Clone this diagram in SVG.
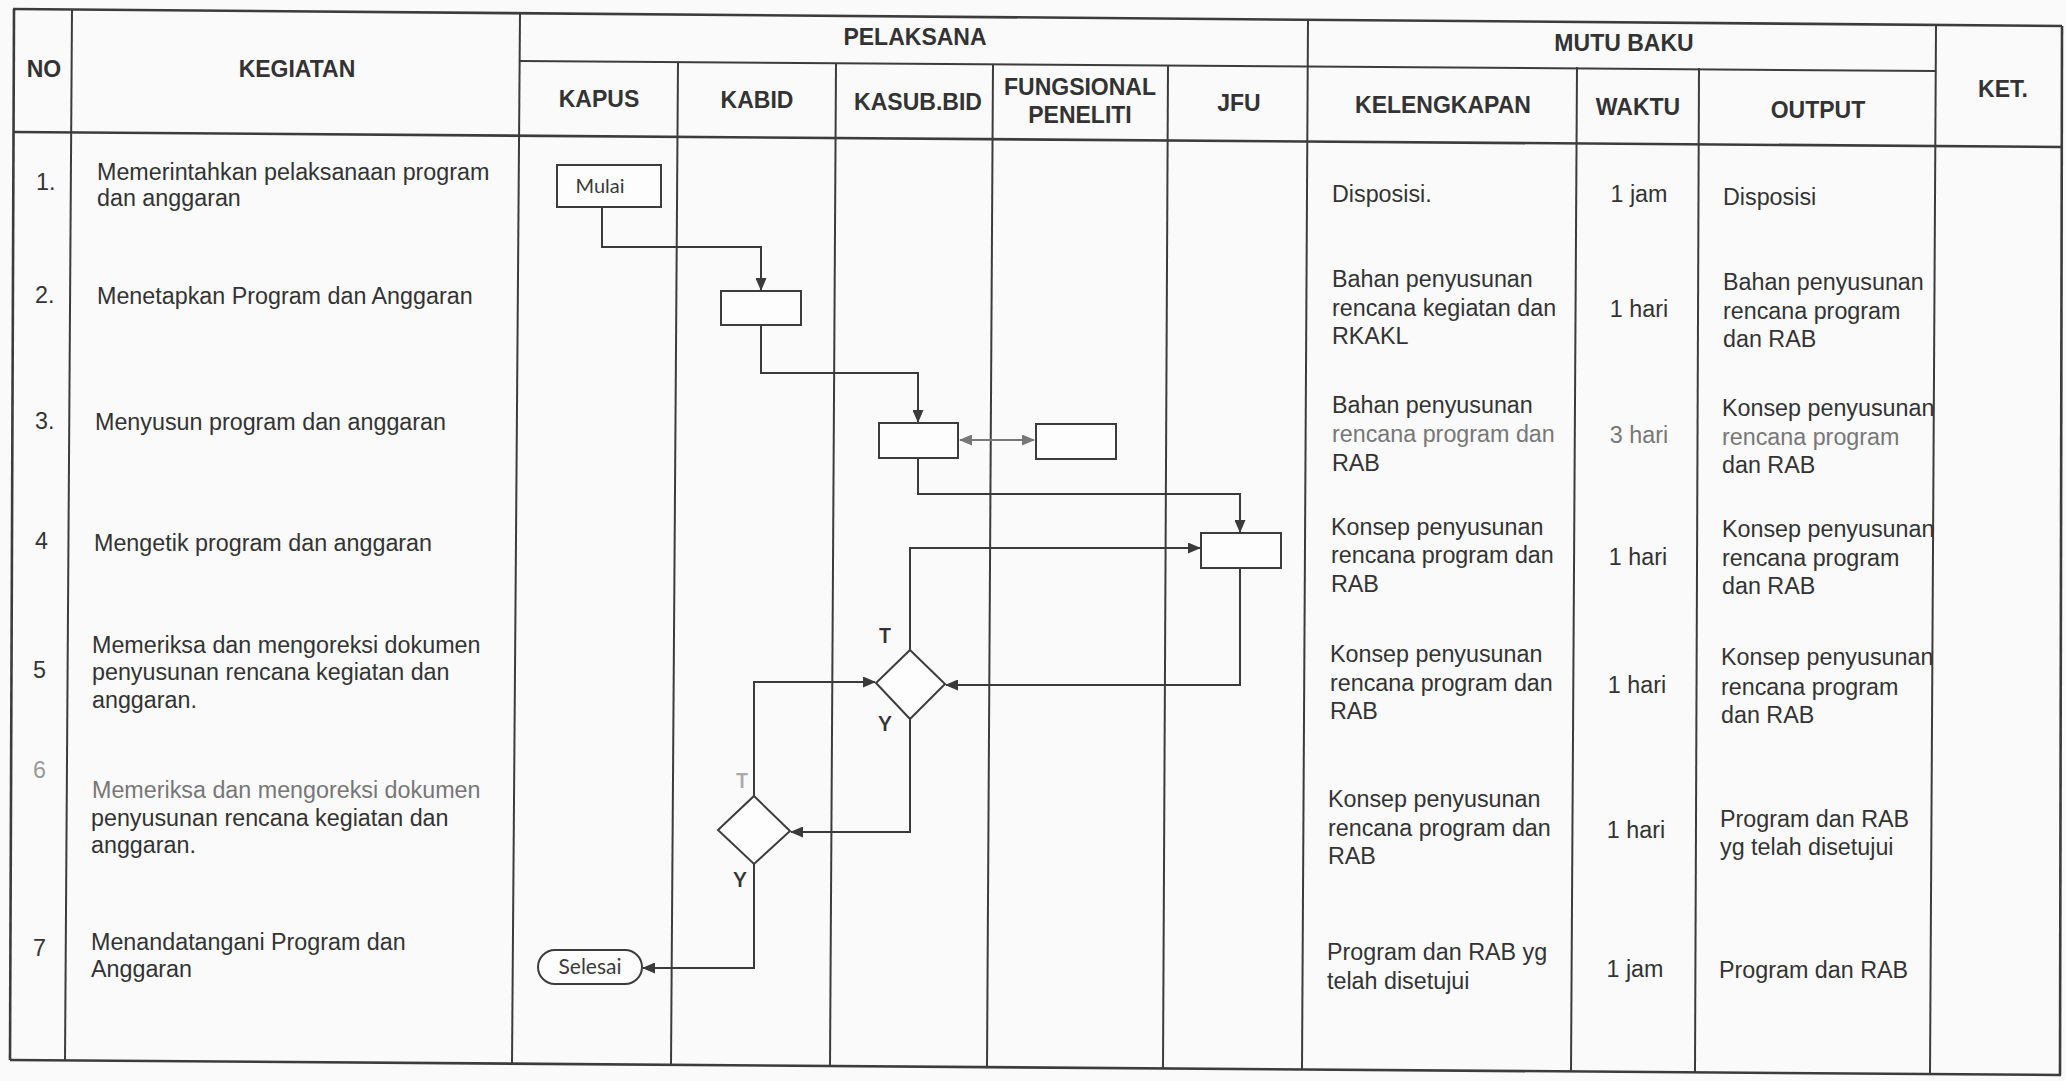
<svg xmlns="http://www.w3.org/2000/svg" width="2066" height="1081" viewBox="0 0 2066 1081">
<defs>
<marker id="arr" markerUnits="userSpaceOnUse" markerWidth="13" markerHeight="11" refX="12" refY="5.5" orient="auto"><path d="M0,0 L13,5.5 L0,11 z" fill="#3a3a3a"/></marker>
<marker id="arrg" markerUnits="userSpaceOnUse" markerWidth="13" markerHeight="11" refX="12" refY="5.5" orient="auto-start-reverse"><path d="M0,0 L13,5.5 L0,11 z" fill="#777"/></marker>
</defs>
<style>
.g{stroke:#3c3c3c;stroke-width:2;fill:none}
.gh{stroke:#3c3c3c;stroke-width:2.6;fill:none}
.h{font-family:"Liberation Sans",Arial,sans-serif;font-weight:bold;font-size:23px;fill:#333;text-anchor:middle}
.t{font-family:"Liberation Sans",Arial,sans-serif;font-size:23.3px;fill:#333}
.c{text-anchor:middle}
.f{fill:#777}
.ff{fill:#9a9a9a}
.shape{fill:#fdfdfd;stroke:#3c3c3c;stroke-width:2}
.lbl{font-family:Lato,"Open Sans",sans-serif;font-size:20px;fill:#3a3a3a;text-anchor:middle}
.yt{font-family:Lato,"Open Sans",sans-serif;font-weight:bold;font-size:20px;fill:#333;text-anchor:middle}
.cn{stroke:#3a3a3a;stroke-width:2;fill:none}
</style>
<rect width="2066" height="1081" fill="#fafafa"/>

<g id="grid">
<line class="gh" x1="13" y1="9" x2="2062" y2="26"/>
<line class="g" x1="520" y1="61" x2="1936" y2="71"/>
<line class="gh" x1="13" y1="132" x2="2062" y2="147"/>
<line class="gh" x1="10" y1="1060" x2="2061" y2="1075"/>
<line class="gh" x1="14" y1="9" x2="10" y2="1060"/>
<line class="g" x1="72" y1="9" x2="65" y2="1061"/>
<line class="g" x1="520" y1="13" x2="512" y2="1064"/>
<line class="g" x1="678" y1="62" x2="671" y2="1065"/>
<line class="g" x1="836" y1="63" x2="830" y2="1066"/>
<line class="g" x1="993" y1="64" x2="987" y2="1067"/>
<line class="g" x1="1168" y1="65" x2="1163" y2="1068"/>
<line class="g" x1="1308" y1="20" x2="1302" y2="1069"/>
<line class="g" x1="1577" y1="67" x2="1571" y2="1071"/>
<line class="g" x1="1699" y1="68" x2="1695" y2="1072"/>
<line class="g" x1="1936" y1="25" x2="1930" y2="1074"/>
<line class="gh" x1="2062" y1="26" x2="2060" y2="1075"/>
</g>

<g id="header">
<text class="h" x="44" y="77">NO</text>
<text class="h" x="297" y="77">KEGIATAN</text>
<text class="h" x="915" y="45">PELAKSANA</text>
<text class="h" x="1624" y="51">MUTU BAKU</text>
<text class="h" x="599" y="107">KAPUS</text>
<text class="h" x="757" y="108">KABID</text>
<text class="h" x="918" y="110">KASUB.BID</text>
<text class="h" x="1080" y="95">FUNGSIONAL</text>
<text class="h" x="1080" y="123">PENELITI</text>
<text class="h" x="1239" y="111">JFU</text>
<text class="h" x="1443" y="113">KELENGKAPAN</text>
<text class="h" x="1638" y="115">WAKTU</text>
<text class="h" x="1818" y="118">OUTPUT</text>
<text class="h" x="2003" y="97">KET.</text>
</g>

<g id="row1">
<text class="t" x="36" y="190">1.</text>
<text class="t" x="97" y="180">Memerintahkan pelaksanaan program</text>
<text class="t" x="97" y="206">dan anggaran</text>
<text class="t" x="1332" y="202">Disposisi.</text>
<text class="t c" x="1639" y="202">1 jam</text>
<text class="t" x="1723" y="205">Disposisi</text>
</g>
<g id="row2">
<text class="t" x="35" y="303">2.</text>
<text class="t" x="97" y="304">Menetapkan Program dan Anggaran</text>
<text class="t" x="1332" y="287">Bahan penyusunan</text>
<text class="t" x="1332" y="316">rencana kegiatan dan</text>
<text class="t" x="1332" y="344">RKAKL</text>
<text class="t c" x="1639" y="317">1 hari</text>
<text class="t" x="1723" y="290">Bahan penyusunan</text>
<text class="t" x="1723" y="319">rencana program</text>
<text class="t" x="1723" y="347">dan RAB</text>
</g>
<g id="row3">
<text class="t" x="35" y="429">3.</text>
<text class="t" x="95" y="430">Menyusun program dan anggaran</text>
<text class="t" x="1332" y="413">Bahan penyusunan</text>
<text class="t f" x="1332" y="442">rencana program dan</text>
<text class="t" x="1332" y="471">RAB</text>
<text class="t c f" x="1639" y="443">3 hari</text>
<text class="t" x="1722" y="416">Konsep penyusunan</text>
<text class="t f" x="1722" y="445">rencana program</text>
<text class="t" x="1722" y="473">dan RAB</text>
</g>
<g id="row4">
<text class="t" x="35" y="549">4</text>
<text class="t" x="94" y="551">Mengetik program dan anggaran</text>
<text class="t" x="1331" y="535">Konsep penyusunan</text>
<text class="t" x="1331" y="563">rencana program dan</text>
<text class="t" x="1331" y="592">RAB</text>
<text class="t c" x="1638" y="565">1 hari</text>
<text class="t" x="1722" y="537">Konsep penyusunan</text>
<text class="t" x="1722" y="566">rencana program</text>
<text class="t" x="1722" y="594">dan RAB</text>
</g>
<g id="row5">
<text class="t" x="33" y="678">5</text>
<text class="t" x="92" y="653">Memeriksa dan mengoreksi dokumen</text>
<text class="t" x="92" y="680">penyusunan rencana kegiatan dan</text>
<text class="t" x="92" y="708">anggaran.</text>
<text class="t" x="1330" y="662">Konsep penyusunan</text>
<text class="t" x="1330" y="691">rencana program dan</text>
<text class="t" x="1330" y="719">RAB</text>
<text class="t c" x="1637" y="693">1 hari</text>
<text class="t" x="1721" y="665">Konsep penyusunan</text>
<text class="t" x="1721" y="695">rencana program</text>
<text class="t" x="1721" y="723">dan RAB</text>
</g>
<g id="row6">
<text class="t ff" x="33" y="778">6</text>
<text class="t f" x="92" y="798">Memeriksa dan mengoreksi dokumen</text>
<text class="t" x="91" y="826">penyusunan rencana kegiatan dan</text>
<text class="t" x="91" y="853">anggaran.</text>
<text class="t" x="1328" y="807">Konsep penyusunan</text>
<text class="t" x="1328" y="836">rencana program dan</text>
<text class="t" x="1328" y="864">RAB</text>
<text class="t c" x="1636" y="838">1 hari</text>
<text class="t" x="1720" y="827">Program dan RAB</text>
<text class="t" x="1720" y="855">yg telah disetujui</text>
</g>
<g id="row7">
<text class="t" x="33" y="956">7</text>
<text class="t" x="91" y="950">Menandatangani Program dan</text>
<text class="t" x="91" y="977">Anggaran</text>
<text class="t" x="1327" y="960">Program dan RAB yg</text>
<text class="t" x="1327" y="989">telah disetujui</text>
<text class="t c" x="1635" y="977">1 jam</text>
<text class="t" x="1719" y="978">Program dan RAB</text>
</g>

<g id="connectors">
<polyline class="cn" points="602,208 602,247 761,247 761,290" marker-end="url(#arr)"/>
<polyline class="cn" points="761,325 761,373 918,373 918,422" marker-end="url(#arr)"/>
<line x1="960" y1="440" x2="1034" y2="440" stroke="#777" stroke-width="2" marker-start="url(#arrg)" marker-end="url(#arrg)"/>
<polyline class="cn" points="918,458 918,494 1240,494 1240,532" marker-end="url(#arr)"/>
<polyline class="cn" points="1240,568 1240,685 946,685" marker-end="url(#arr)"/>
<polyline class="cn" points="910,650 910,548 1200,548" marker-end="url(#arr)"/>
<polyline class="cn" points="910,719 910,832 791,832" marker-end="url(#arr)"/>
<polyline class="cn" points="754,796 754,682 875,682" marker-end="url(#arr)"/>
<polyline class="cn" points="754,864 754,968 643,968" marker-end="url(#arr)"/>
</g>

<g id="mulai">
<rect class="shape" x="557" y="165" width="104" height="42"/>
<text class="lbl" x="600" y="193">Mulai</text>
</g>
<g id="kabid-proses">
<rect class="shape" x="721" y="291" width="80" height="34"/>
</g>
<g id="kasubbid-proses">
<rect class="shape" x="879" y="423" width="79" height="35"/>
</g>
<g id="fungsional-proses">
<rect class="shape" x="1036" y="424" width="80" height="35"/>
</g>
<g id="jfu-proses">
<rect class="shape" x="1201" y="533" width="80" height="35"/>
</g>
<g id="kasubbid-keputusan">
<polygon class="shape" points="910,650 945,684 910,719 876,683"/>
<text class="yt" x="885" y="643">T</text>
<text class="yt" x="885" y="731">Y</text>
</g>
<g id="kabid-keputusan">
<polygon class="shape" points="754,796 790,831 754,864 718,830"/>
<text class="yt" x="742" y="788" style="fill:#aaa">T</text>
<text class="yt" x="740" y="887">Y</text>
</g>
<g id="selesai">
<rect class="shape" x="538" y="950" width="104" height="34" rx="17"/>
<text class="lbl" x="590" y="974" style="font-size:21px">Selesai</text>
</g>
</svg>
